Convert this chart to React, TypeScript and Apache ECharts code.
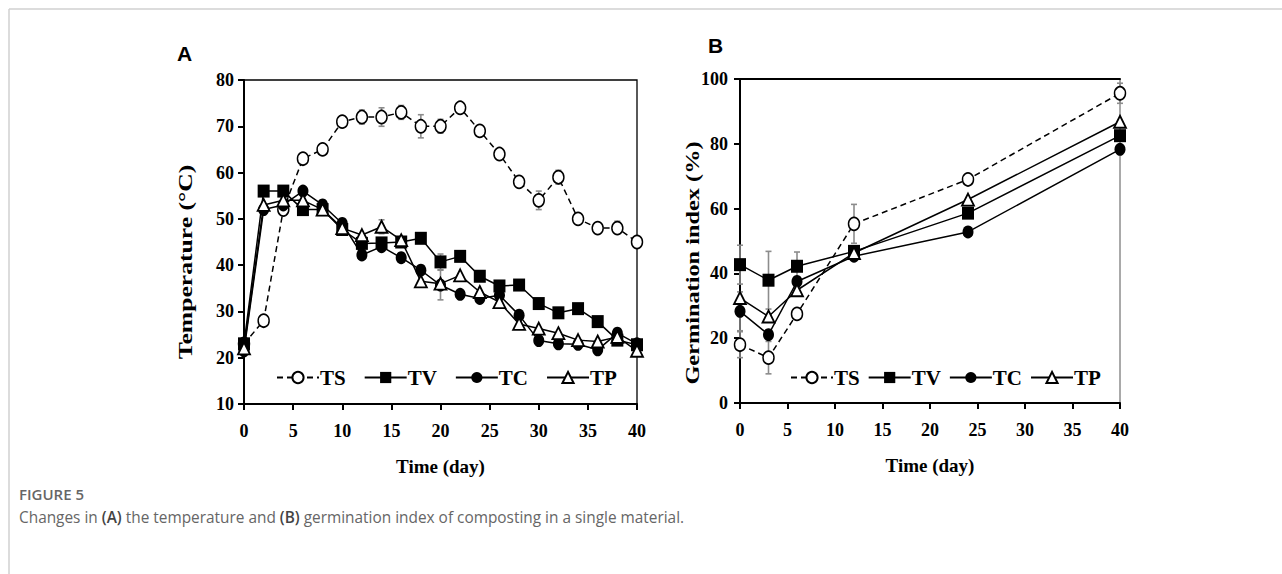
import React, { useEffect, useRef } from "react";
import * as echarts from "echarts";

// Panel A: temperature
const daysA = [0, 2, 4, 6, 8, 10, 12, 14, 16, 18, 20, 22, 24, 26, 28, 30, 32, 34, 36, 38, 40];
const tsA = [23, 28, 52, 63, 65, 71, 72, 72, 73, 70, 70, 74, 69, 64, 58, 54, 59, 50, 48, 48, 45];
const tvA = [23, 56, 56, 52, 52, 47.7, 44.7, 44.8, 45, 45.8, 40.7, 41.9, 37.6, 35.5, 35.7, 31.7, 29.7, 30.6, 27.8, 23.8, 22.8];
const tcA = [21.5, 52, 53, 56, 53, 49, 42.2, 44, 41.6, 38.9, 35.7, 33.7, 32.8, 33.5, 29.2, 23.7, 23, 22.9, 21.7, 25.3, 23];
const tpA = [22, 53, 54, 54, 52, 48, 46.5, 48.3, 45.4, 36.5, 36, 37.8, 34.2, 32, 27.3, 26.3, 25.3, 23.8, 23.5, 24.5, 21.5];
// error bars A: [day, low, high]
const errA = [
  [10, 70, 72], [12, 70.5, 73.5], [14, 70, 74], [16, 71.5, 74.5], [18, 67.5, 72.5], [20, 68.5, 71.5],
  [22, 73, 75], [30, 52, 56], [32, 57.5, 60.5], [36, 47, 49], [38, 47, 49.5],
  [20, 32.5, 38.9], [14, 46.8, 49.8], [20, 39, 42.4],
];

// Panel B: germination index
const daysB = [0, 3, 6, 12, 24, 40];
const tsB = [18, 14, 27.5, 55.3, 69, 95.6];
const tvB = [42.7, 37.9, 42.2, 46.8, 58.6, 82.5];
const tcB = [28.3, 21.1, 37.5, 45.3, 52.8, 78.3];
const tpB = [32.4, 26.7, 34.8, 46.3, 62.8, 86.8];
const errB = [
  [0, 14, 22], [3, 9, 19], [12, 49.3, 61.3], [24, 67.5, 70.5], [40, 92.5, 98.7],
  [0, 36.7, 48.7], [3, 29, 46.8], [6, 38, 46.6], [0, 22.3, 34.3],
];

const seriesNames = ["TS", "TV", "TC", "TP"];
const yNameA = "Temperature (°C)";
const yNameB = "Germination index (%)";
const xName = "Time (day)";

const SERIF = "'Liberation Serif', 'Times New Roman', serif";

export default function App() {
  const ref = useRef<HTMLDivElement>(null);
  useEffect(() => {
    if (!ref.current) return;
    const chart = echarts.init(ref.current, null, { renderer: "svg" });

    const pairs = (xs: number[], ys: number[]) => xs.map((x, i) => [x, ys[i]]);

    const styleFor = (name: string) => {
      if (name === "TS")
        return {
          symbol: "circle",
          symbolSize: [11, 13],
          itemStyle: { color: "#fff", borderColor: "#000", borderWidth: 1.6 },
          lineStyle: { color: "#000", width: 1.5, type: [6, 4] },
        };
      if (name === "TV")
        return {
          symbol: "rect",
          symbolSize: [12, 13],
          itemStyle: { color: "#000", borderColor: "#000", borderWidth: 0 },
          lineStyle: { color: "#000", width: 1.5, type: "solid" },
        };
      if (name === "TC")
        return {
          symbol: "circle",
          symbolSize: [11, 13],
          itemStyle: { color: "#000", borderColor: "#000", borderWidth: 0 },
          lineStyle: { color: "#000", width: 1.5, type: "solid" },
        };
      return {
        symbol: "triangle",
        symbolSize: [12, 12],
        itemStyle: { color: "#fff", borderColor: "#000", borderWidth: 1.8 },
        lineStyle: { color: "#000", width: 1.5, type: "solid" },
      };
    };

    const dataA: Record<string, number[]> = { TS: tsA, TV: tvA, TC: tcA, TP: tpA };
    const dataB: Record<string, number[]> = { TS: tsB, TV: tvB, TC: tcB, TP: tpB };

    const errRender = (params: any, api: any) => {
      const x = api.value(0);
      const lo = api.coord([x, api.value(1)]);
      const hi = api.coord([x, api.value(2)]);
      const st = { stroke: "#8c8c8c", lineWidth: 1.6 };
      return {
        type: "group",
        children: [
          { type: "line", shape: { x1: lo[0], y1: lo[1], x2: hi[0], y2: hi[1] }, style: st },
          { type: "line", shape: { x1: lo[0] - 3, y1: lo[1], x2: lo[0] + 3, y2: lo[1] }, style: st },
          { type: "line", shape: { x1: hi[0] - 3, y1: hi[1], x2: hi[0] + 3, y2: hi[1] }, style: st },
        ],
      };
    };

    const axisLabel = { color: "#000", fontFamily: SERIF, fontWeight: "bold" as const, fontSize: 18 };
    const nameStyle = { color: "#000", fontFamily: SERIF, fontWeight: "bold" as const, fontSize: 19 };

    const mkX = (gridIndex: number) => ({
      type: "value",
      gridIndex,
      min: 0,
      max: 40,
      interval: 5,
      name: xName,
      nameLocation: "middle",
      nameGap: 53,
      nameTextStyle: nameStyle,
      axisLine: { show: true, onZero: false, lineStyle: { color: "#000", width: 2 } },
      axisTick: { show: true, inside: false, length: 6, lineStyle: { color: "#000", width: 2 } },
      axisLabel: { ...axisLabel, margin: 18 },
      splitLine: { show: false },
    });

    const mkY = (gridIndex: number, min: number, max: number, interval: number, margin: number) => ({
      type: "value",
      gridIndex,
      min,
      max,
      interval,
      axisLine: { show: true, onZero: false, lineStyle: { color: "#000", width: 2 } },
      axisTick: { show: true, length: 6, lineStyle: { color: "#000", width: 2 } },
      axisLabel: { ...axisLabel, margin },
      splitLine: { show: false },
    });

    const series: any[] = [];
    seriesNames.forEach((n) => {
      series.push({
        name: n,
        type: "line",
        xAxisIndex: 0,
        yAxisIndex: 0,
        data: pairs(daysA, dataA[n]),
        z: 3,
        ...styleFor(n),
      });
    });
    seriesNames.forEach((n) => {
      series.push({
        name: n,
        type: "line",
        xAxisIndex: 1,
        yAxisIndex: 1,
        data: pairs(daysB, dataB[n]),
        z: 3,
        ...styleFor(n),
      });
    });
    series.push({
      name: "errA",
      type: "custom",
      xAxisIndex: 0,
      yAxisIndex: 0,
      data: errA,
      encode: { x: 0, y: [1, 2] },
      renderItem: errRender,
      z: 2,
    });
    series.push({
      name: "errB",
      type: "custom",
      xAxisIndex: 1,
      yAxisIndex: 1,
      data: errB,
      encode: { x: 0, y: [1, 2] },
      renderItem: errRender,
      z: 2,
    });

    const legendBase = {
      data: seriesNames,
      orient: "horizontal",
      itemWidth: 42,
      itemHeight: 14,
      selectedMode: false,
      textStyle: { color: "#000", fontFamily: SERIF, fontWeight: "bold", fontSize: 21, padding: [0, 0, 0, -4] },
    };

    const yNameText = (text: string, x: number, y: number, s: number) => ({
      type: "text",
      x,
      y,
      rotation: Math.PI / 2,
      scaleX: s,
      scaleY: 1,
      style: {
        text,
        font: `bold 19px ${SERIF}`,
        fill: "#000",
        align: "center",
        verticalAlign: "middle",
      },
    });

    chart.setOption({
      animation: false,
      backgroundColor: "#fff",
      grid: [
        { left: 244, top: 80, width: 393, height: 324, show: true, borderColor: "#000", borderWidth: 1.3, backgroundColor: "transparent" },
        { left: 740, top: 79, width: 380, height: 324, show: true, borderColor: "#555", borderWidth: 1, backgroundColor: "transparent" },
      ],
      legend: [
        { ...legendBase, left: 271, top: 362, itemGap: 18 },
        { ...legendBase, left: 785, top: 362, itemGap: 8 },
      ],
      xAxis: [
        mkX(0),
        mkX(1),
        {
          type: "value",
          gridIndex: 1,
          position: "top",
          min: 0,
          max: 40,
          axisLine: { show: true, onZero: false, lineStyle: { color: "#000", width: 2 } },
          axisTick: { show: false },
          axisLabel: { show: false },
          splitLine: { show: false },
        },
      ],
      yAxis: [mkY(0, 10, 80, 10, 10), mkY(1, 0, 100, 20, 12)],
      series,
      graphic: [
        { type: "line", shape: { x1: 9, y1: 9, x2: 1282, y2: 9 }, style: { stroke: "#d0d0d0", lineWidth: 1.5 } },
        { type: "line", shape: { x1: 9, y1: 9, x2: 9, y2: 574 }, style: { stroke: "#d0d0d0", lineWidth: 1.5 } },
        yNameText(yNameA, 186, 262, 1.35),
        yNameText(yNameB, 693, 263, 1.28),
        {
          type: "text",
          left: 177,
          top: 43,
          style: { text: "A", font: "bold 21px 'Liberation Sans', Arial, sans-serif", fill: "#000" },
        },
        {
          type: "text",
          left: 708,
          top: 35,
          style: { text: "B", font: "bold 21px 'Liberation Sans', Arial, sans-serif", fill: "#000" },
        },
        {
          type: "text",
          left: 19,
          top: 486,
          style: { text: "FIGURE 5", font: "600 15px 'Open Sans', sans-serif", fill: "#666" },
        },
        {
          type: "text",
          left: 19,
          top: 510,
          style: {
            text: "Changes in {b|(A)} the temperature and {b|(B)} germination index of composting in a single material.",
            font: "15.4px 'Open Sans', sans-serif",
            fill: "#666",
            rich: {
              b: { font: "600 15.4px 'Open Sans', sans-serif", fill: "#444" },
            },
          },
        },
      ],
    });
    return () => chart.dispose();
  }, []);
  return <div ref={ref} style={{ position: "fixed", left: 0, top: 0, width: 1282, height: 574 }} />;
}
